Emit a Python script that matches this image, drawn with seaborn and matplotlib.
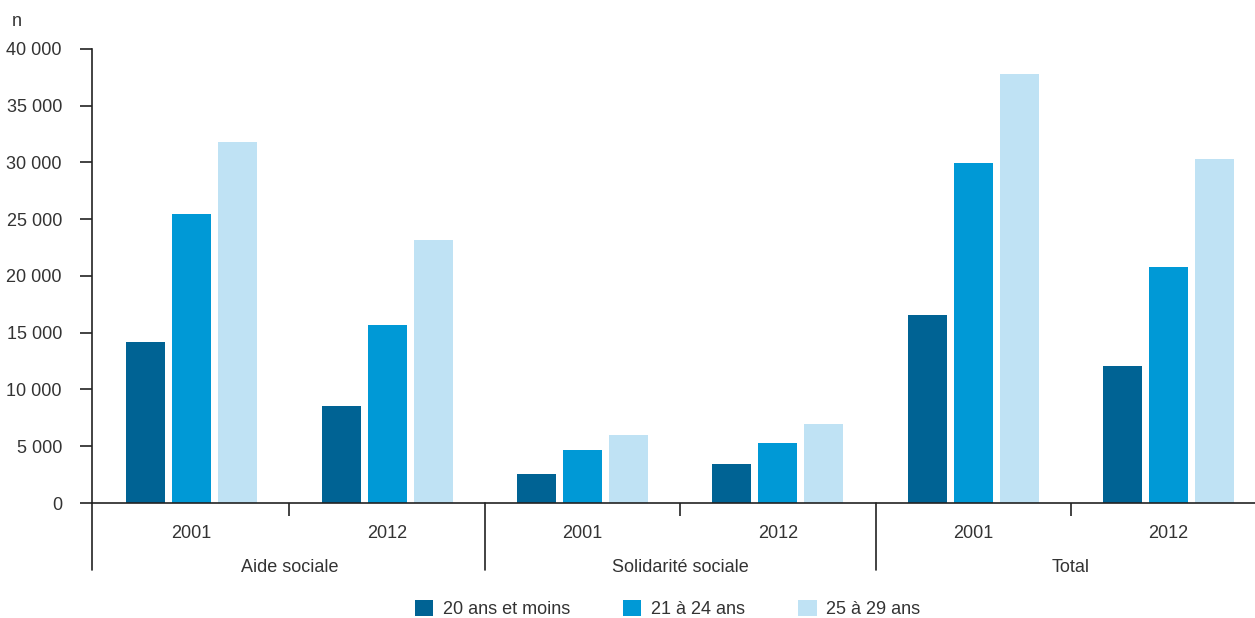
import numpy as np
import pandas as pd
import matplotlib
matplotlib.use("Agg")
import matplotlib.pyplot as plt
import matplotlib.transforms as mtransforms
from matplotlib.ticker import FuncFormatter, FixedLocator
import seaborn as sns

# %% data
categories = ["Aide sociale", "Solidarité sociale", "Total"]
years = ["2001", "2012"]
ages = ["20 ans et moins", "21 à 24 ans", "25 à 29 ans"]
moins_20 = [14200, 8570, 2580, 3460, 16590, 12100]
ans_21_24 = [25490, 15710, 4700, 5310, 29980, 20820]
ans_25_29 = [31830, 23200, 6020, 6990, 37820, 30330]
colors = ["#006394", "#0099D6", "#BFE2F4"]

slots = [f"{c}|{y}" for c in categories for y in years]
df = pd.DataFrame({
    "slot": slots * 3,
    "age": np.repeat(ages, len(slots)),
    "value": moins_20 + ans_21_24 + ans_25_29,
})

# %% style
sns.set_theme(style="white")
plt.rcParams["font.family"] = ["Liberation Sans", "DejaVu Sans"]
txt = "#333333"
line = "#222222"
fs = 13

fig = plt.figure(figsize=(12.55, 6.18), dpi=100)
ax = fig.add_axes([92 / 1255, 115 / 618, 1163 / 1255, 454 / 618])

sns.barplot(
    data=df, x="slot", y="value", hue="age", order=slots, hue_order=ages,
    palette=colors, saturation=1, width=0.706, gap=0.152, linewidth=0,
    errorbar=None, ax=ax,
)

x_left = -0.51
ax.set_xlim(x_left, x_left + 1163 / 195.4)
ax.set_ylim(0, 40000)
ax.set_xlabel("")
ax.set_ylabel("")

for s in ["top", "right"]:
    ax.spines[s].set_visible(False)
for s in ["left", "bottom"]:
    ax.spines[s].set_color(line)
    ax.spines[s].set_linewidth(1.2)

# y axis
ax.set_yticks(np.arange(0, 40001, 5000))
ax.yaxis.set_major_formatter(FuncFormatter(lambda v, p: f"{int(v):,}".replace(",", " ")))
ax.tick_params(axis="y", length=8.6, width=1.2, color=line, pad=13,
               labelsize=fs, labelcolor=txt, left=True)

# x axis: year labels, short ticks between years, long separators between groups
ax.set_xticks(range(len(slots)))
ax.set_xticklabels([s.split("|")[1] for s in slots])
ax.tick_params(axis="x", which="major", length=0, pad=16, labelsize=fs, labelcolor=txt)
n_years = len(years)
ax.xaxis.set_minor_locator(FixedLocator([i * n_years + 0.5 for i in range(len(categories))]))
ax.tick_params(axis="x", which="minor", length=9.4, width=1.2, color=line, bottom=True)

trans = mtransforms.blended_transform_factory(ax.transData, ax.transAxes)
sep_bottom = -(570 - 503) / 454
for i in range(len(categories) + 1):
    xs = x_left if i == 0 else i * n_years - 0.5
    ax.plot([xs, xs], [0, sep_bottom], color=line, lw=1.2, transform=trans, clip_on=False)
for i, c in enumerate(categories):
    ax.text(i * n_years + (n_years - 1) / 2, -(567 - 503) / 454, c, transform=trans,
            ha="center", va="center", fontsize=fs, color=txt)

fig.text(17 / 1255, 1 - 21 / 618, "n", ha="center", va="center", fontsize=fs, color=txt)

# legend
handles, labels = ax.get_legend_handles_labels()
ax.get_legend().remove()
fig.legend(handles, labels, loc="center", bbox_to_anchor=(0.532, 0.015), ncol=3,
           frameon=False, fontsize=fs, handlelength=1.0, handleheight=1.0,
           handletextpad=0.55, columnspacing=2.95, labelcolor=txt)

fig.savefig("out.png", dpi=100)
